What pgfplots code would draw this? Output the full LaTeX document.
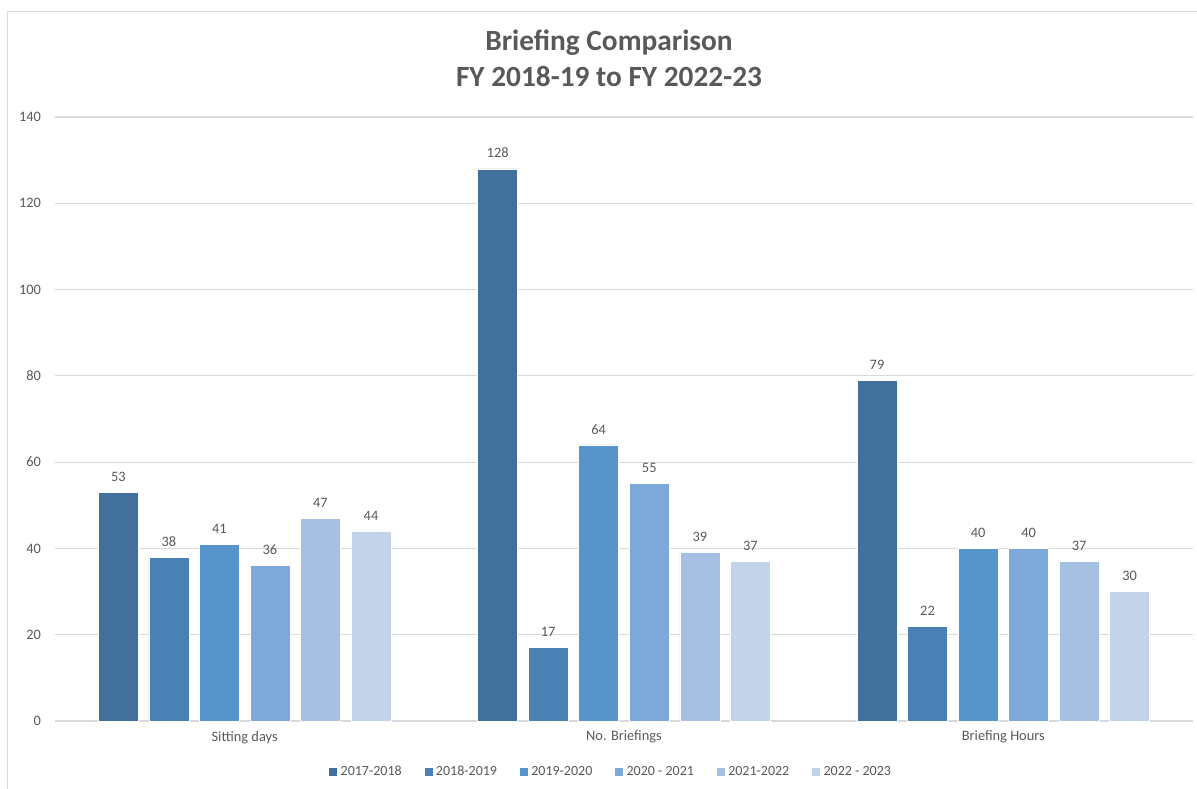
\documentclass[border=0pt]{standalone}
\usepackage{pgfplots}
\pgfplotsset{compat=1.18}
\usepackage{fontspec}
\setmainfont{Carlito}
\definecolor{txt}{HTML}{595959}
\definecolor{gridc}{HTML}{D9D9D9}
\definecolor{c1}{HTML}{41709C}
\definecolor{c2}{HTML}{4A80B4}
\definecolor{c3}{HTML}{5794CC}
\definecolor{c4}{HTML}{7CA9DA}
\definecolor{c5}{HTML}{A5C0E3}
\definecolor{c6}{HTML}{C3D4EA}
\begin{document}
\begin{tikzpicture}
\path[use as bounding box] (0,0) rectangle (897.75pt,591.75pt);
\draw[gridc, line width=1.1pt] (5.6pt,0) -- (5.6pt,583.1pt) -- (897.75pt,583.1pt);
\node[anchor=base, text=txt, font=\fontsize{22pt}{27pt}\selectfont\bfseries] at (456.75pt,553.5pt) {Briefing Comparison};
\node[anchor=base, text=txt, font=\fontsize{22pt}{27pt}\selectfont\bfseries] at (456.75pt,526.5pt) {FY 2018-19 to FY 2022-23};
\begin{axis}[
  at={(41.25pt,51pt)}, anchor=south west,
  scale only axis, width=853.5pt, height=453pt,
  xmin=-0.5, xmax=2.5, ymin=0, ymax=140,
  ybar=7.9pt, bar width=30pt,
  axis line style={draw=none},
  xtick={0,1,2},
  xticklabels={Sitting days, No. Briefings, Briefing Hours},
  ytick={0,20,...,140},
  major tick length=0,
  ymajorgrids, grid style={gridc, line width=0.8pt},
  tick label style={text=txt, font=\fontsize{10.8pt}{13pt}\selectfont},
  /pgf/number format/assume math mode=true,
  yticklabel style={xshift=-7pt},
  xticklabel style={yshift=-4pt},
  nodes near coords,
  every node near coord/.append style={text=txt, font=\fontsize{10.8pt}{13pt}\selectfont, yshift=4.5pt},
  legend columns=6,
  legend style={draw=none, at={(0.4886,-0.0844)}, anchor=center,
     font=\fontsize{10.5pt}{12pt}\selectfont, text=txt,
     /tikz/every even column/.append style={column sep=14.5pt}},
  legend image code/.code={\fill[#1] (0pt,-3.4pt) rectangle (6.8pt,3.4pt);},
  clip=false,
]
\addplot[fill=c1, draw=white, line width=0.4pt] coordinates {(0,53) (1,128) (2,79)};
\addplot[fill=c2, draw=white, line width=0.4pt] coordinates {(0,38) (1,17) (2,22)};
\addplot[fill=c3, draw=white, line width=0.4pt] coordinates {(0,41) (1,64) (2,40)};
\addplot[fill=c4, draw=white, line width=0.4pt] coordinates {(0,36) (1,55) (2,40)};
\addplot[fill=c5, draw=white, line width=0.4pt] coordinates {(0,47) (1,39) (2,37)};
\addplot[fill=c6, draw=white, line width=0.4pt] coordinates {(0,44) (1,37) (2,30)};
\legend{2017-2018, 2018-2019, 2019-2020, 2020 - 2021, 2021-2022, 2022 - 2023}
\end{axis}
\end{tikzpicture}
\end{document}
